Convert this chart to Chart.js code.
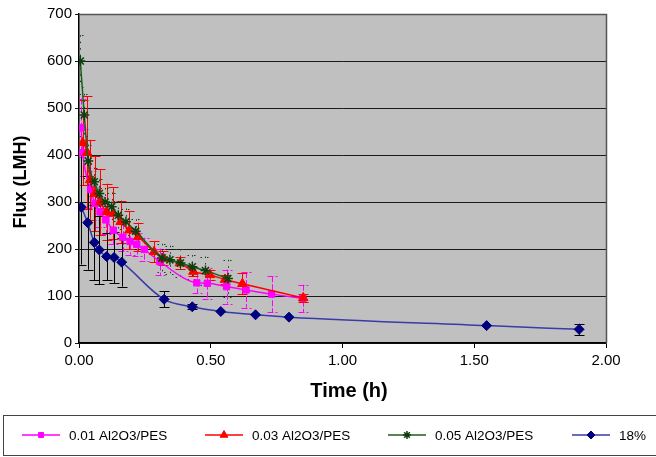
<!DOCTYPE html>
<html>
<head>
<meta charset="utf-8">
<script src="https://cdn.jsdelivr.net/npm/chart.js@4.4.1/dist/chart.umd.min.js"></script>
<style>
  html, body { margin: 0; padding: 0; background: #fff; }
  #wrap { width: 656px; height: 457px; position: relative; }
</style>
</head>
<body>
<div id="wrap"><canvas id="fluxChart" width="656" height="457"></canvas></div>
<script>
// --- Flux decline data: time (h), flux (LMH), std. deviation ---
const pes01Time = [0.008, 0.014, 0.044, 0.061, 0.08, 0.102, 0.13, 0.166, 0.194, 0.219, 0.248, 0.307, 0.447, 0.487, 0.56, 0.634, 0.731, 0.849];
const pes01Flux = [458, 405, 327, 297, 279, 262, 240, 225, 216, 210, 199, 173, 128, 127, 120, 113, 104, 95];
const pes01Err  = [62, 50, 40, 35, 32, 30, 30, 30, 28, 25, 25, 28, 22, 33, 36, 38, 38, 29];

const pes03Time = [0.014, 0.031, 0.042, 0.061, 0.08, 0.105, 0.13, 0.158, 0.191, 0.225, 0.285, 0.32, 0.383, 0.434, 0.497, 0.554, 0.62, 0.851];
const pes03Flux = [426, 405, 347, 318, 300, 279, 276, 258, 240, 226, 194, 180, 170, 152, 145, 135, 126, 96];
const pes03Err  = [90, 120, 85, 80, 70, 60, 55, 45, 40, 30, 22, 15, 12, 10, 10, 10, 22, 8];

const pes05Time = [0.005, 0.02, 0.035, 0.058, 0.077, 0.099, 0.124, 0.149, 0.178, 0.215, 0.315, 0.345, 0.385, 0.43, 0.48, 0.565];
const pes05Flux = [600, 485, 387, 343, 318, 300, 290, 272, 258, 238, 181, 177, 170, 162, 154, 137];
const pes05Err  = [55, 45, 35, 30, 30, 30, 30, 30, 28, 25, 30, 30, 30, 25, 30, 40];

const pesBaseTime = [0.009, 0.033, 0.058, 0.077, 0.105, 0.133, 0.162, 0.323, 0.43, 0.538, 0.67, 0.797, 1.547, 1.898];
const pesBaseFlux = [289, 256, 214, 198, 184, 182, 172, 93, 77, 67, 60, 55, 37, 29];
const pesBaseErr  = [122, 100, 80, 73, 50, 55, 52, 17, 5, 0, 0, 0, 0, 12];

const seriesNames = ['0.01 Al2O3/PES', '0.03 Al2O3/PES', '0.05 Al2O3/PES', '18%'];
const xTicks = [0, 0.5, 1, 1.5, 2];

const toPoints = (t, f) => t.map((x, i) => ({ x: x, y: f[i] }));

// --- Error bars (drawn under the markers) ---
const errorBars = {
    id: 'errorBars',
    beforeDatasetsDraw(chart) {
        const ctx = chart.ctx;
        const yScale = chart.scales.y;
        const area = chart.chartArea;
        ctx.save();
        ctx.beginPath();
        ctx.rect(area.left, area.top, area.right - area.left, area.bottom - area.top);
        ctx.clip();
        chart.data.datasets.forEach((ds, di) => {
            if (!ds.errors) return;
            const meta = chart.getDatasetMeta(di);
            ctx.strokeStyle = ds.errorColor;
            ctx.lineWidth = 1;
            ctx.setLineDash(ds.errorDash || []);
            meta.data.forEach((pt, i) => {
                const e = ds.errors[i];
                if (!e) return;
                const v = ds.data[i].y;
                const yt = yScale.getPixelForValue(v + e);
                const yb = yScale.getPixelForValue(v - e);
                const x = Math.round(pt.x) + 0.5;
                ctx.beginPath();
                ctx.moveTo(x, yt); ctx.lineTo(x, yb);
                ctx.moveTo(x - 5, Math.round(yt) + 0.5); ctx.lineTo(x + 5, Math.round(yt) + 0.5);
                ctx.moveTo(x - 5, Math.round(yb) + 0.5); ctx.lineTo(x + 5, Math.round(yb) + 0.5);
                ctx.stroke();
            });
        });
        ctx.restore();
    }
};

// --- Plot background, border, axis titles and boxed legend ---
const decorations = {
    id: 'decorations',
    beforeDraw(chart) {
        const { ctx, chartArea: a } = chart;
        ctx.save();
        ctx.fillStyle = '#c0c0c0';
        ctx.fillRect(a.left, a.top, a.right - a.left, a.bottom - a.top);
        ctx.restore();
    },
    afterDraw(chart) {
        const { ctx, chartArea: a } = chart;
        ctx.save();
        ctx.strokeStyle = '#555';
        ctx.lineWidth = 1.5;
        ctx.beginPath();
        ctx.moveTo(a.left, a.top + 0.5);
        ctx.lineTo(a.right + 0.5, a.top + 0.5);
        ctx.lineTo(a.right + 0.5, a.bottom);
        ctx.stroke();

        // axis titles
        ctx.fillStyle = '#000';
        ctx.textAlign = 'center';
        ctx.textBaseline = 'middle';
        ctx.font = 'bold 20px "Liberation Sans", Arial, sans-serif';
        ctx.fillText('Time (h)', 349, 391);
        ctx.font = 'bold 18px "Liberation Sans", Arial, sans-serif';
        ctx.translate(21, 182);
        ctx.rotate(-Math.PI / 2);
        ctx.fillText('Flux (LMH)', 0, 0);
        ctx.restore();

        // legend box
        ctx.save();
        ctx.strokeStyle = '#444';
        ctx.lineWidth = 1;
        ctx.strokeRect(3.5, 415.5, 660, 40);
        ctx.font = '13.5px "Liberation Sans", Arial, sans-serif';
        ctx.textBaseline = 'middle';
        const legendX = [22, 205, 388, 572];
        const ly = 435;
        chart.data.datasets.forEach((ds, i) => {
            const x0 = legendX[i];
            ctx.strokeStyle = ds.borderColor;
            ctx.lineWidth = 1.5;
            ctx.beginPath();
            ctx.moveTo(x0, ly); ctx.lineTo(x0 + 38, ly);
            ctx.stroke();
            ctx.fillStyle = ds.pointBackgroundColor;
            ctx.strokeStyle = ds.pointBorderColor;
            ctx.lineWidth = ds.pointBorderWidth;
            Chart.helpers.drawPoint(ctx, {
                pointStyle: ds.pointStyle, radius: ds.pointRadius - 1, borderWidth: ds.pointBorderWidth, rotation: 0
            }, x0 + 19, ly);
            ctx.fillStyle = '#000';
            ctx.textAlign = 'left';
            ctx.fillText(seriesNames[i], x0 + 47, ly + 1);
        });
        ctx.restore();
    }
};

const ctx = document.getElementById('fluxChart').getContext('2d');
new Chart(ctx, {
    type: 'line',
    data: {
        datasets: [
            {
                label: seriesNames[0], data: toPoints(pes01Time, pes01Flux), errors: pes01Err,
                errorColor: '#ff00ff', errorDash: [6, 2],
                borderColor: '#ff00ff', borderWidth: 1.5,
                pointStyle: 'rect', pointRadius: 4.5, pointBorderWidth: 1,
                pointBackgroundColor: '#ff00ff', pointBorderColor: '#ff00ff', order: 3
            },
            {
                label: seriesNames[1], data: toPoints(pes03Time, pes03Flux), errors: pes03Err,
                errorColor: '#ff0000',
                borderColor: '#ff0000', borderWidth: 1.5,
                pointStyle: 'triangle', pointRadius: 5.5, pointBorderWidth: 1,
                pointBackgroundColor: '#ff0000', pointBorderColor: '#ff0000', order: 2
            },
            {
                label: seriesNames[2], data: toPoints(pes05Time, pes05Flux), errors: pes05Err,
                errorColor: '#0e4a0e', errorDash: [1.5, 5],
                borderColor: '#1b5e1b', borderWidth: 1.5,
                pointStyle: 'star', pointRadius: 5, pointBorderWidth: 1.5,
                pointBackgroundColor: '#0b3f0b', pointBorderColor: '#0b3f0b', order: 1
            },
            {
                label: seriesNames[3], data: toPoints(pesBaseTime, pesBaseFlux), errors: pesBaseErr,
                errorColor: '#000000',
                borderColor: '#3a3aa8', borderWidth: 1.5,
                pointStyle: 'rectRot', pointRadius: 5, pointBorderWidth: 1,
                pointBackgroundColor: '#000080', pointBorderColor: '#000080', order: 4
            }
        ]
    },
    options: {
        responsive: false,
        animation: false,
        layout: { padding: { left: 0, top: 14, right: 50, bottom: 0 } },
        plugins: { legend: { display: false }, tooltip: { enabled: false } },
        elements: { line: { cubicInterpolationMode: 'monotone', fill: false } },
        scales: {
            x: {
                type: 'linear', min: 0, max: 2,
                afterBuildTicks: s => { s.ticks = xTicks.map(v => ({ value: v })); },
                afterFit: s => { s.height = 114; },
                border: { color: '#000', width: 1.5 },
                grid: { drawOnChartArea: false, drawTicks: true, tickLength: 5, color: '#000' },
                ticks: {
                    color: '#000', padding: 4,
                    font: { family: '"Liberation Sans", Arial, sans-serif', size: 15 },
                    callback: v => v.toFixed(2)
                }
            },
            y: {
                min: 0, max: 700,
                ticks: {
                    stepSize: 100, color: '#000', padding: 3,
                    font: { family: '"Liberation Sans", Arial, sans-serif', size: 15 }
                },
                afterFit: s => { s.width = 79; },
                border: { color: '#000', width: 1.5 },
                grid: { color: '#1a1a1a', lineWidth: 1, tickLength: 4 }
            }
        }
    },
    plugins: [errorBars, decorations]
});
</script>
</body>
</html>
